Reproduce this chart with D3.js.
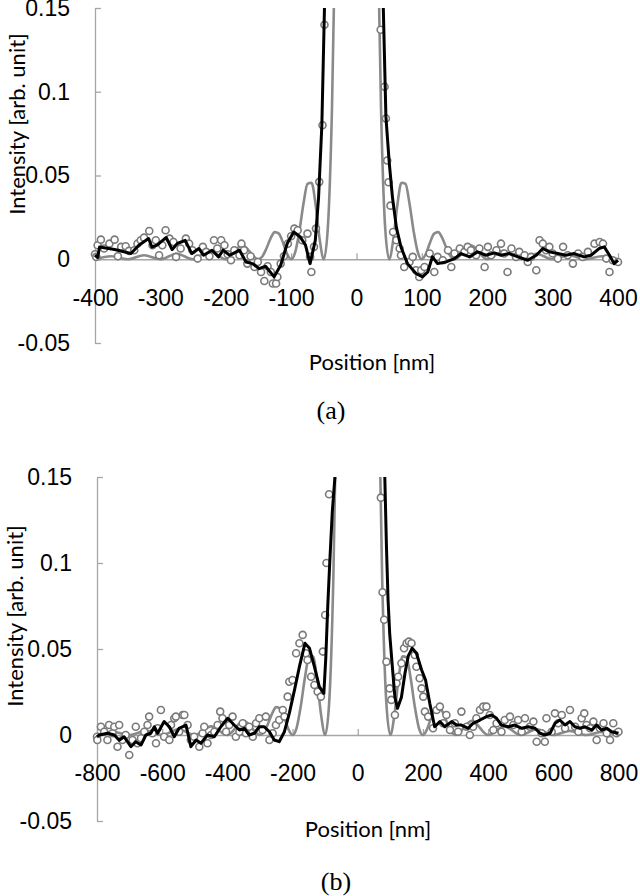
<!DOCTYPE html>
<html>
<head>
<meta charset="utf-8">
<script src="https://cdn.jsdelivr.net/npm/d3@7"></script>
<style>
  body { margin: 0; background: #fff; }
  .axis text { font-family: "Liberation Sans", Arial, sans-serif; font-size: 23px; fill: #000; }
  .axis path, .axis line { stroke: #a6a6a6; stroke-width: 1.3; }
  .ax-title { font-family: Lato, "Open Sans", sans-serif; font-size: 22px; fill: #000; }
  .cap { font-family: "Liberation Serif", "Times New Roman", serif; font-size: 26px; fill: #000; }
</style>
</head>
<body>
<svg width="640" height="896"></svg>
<script>
// y ticks shared by both panels
var yTicks = [-0.05, 0, 0.05, 0.1, 0.15];
var xTicksA = [-400, -300, -200, -100, 0, 100, 200, 300, 400];
var xTicksB = [-800, -600, -400, -200, 0, 200, 400, 600, 800];

// calculated profile (gray), same shape in both panels, positions differ
var theoryPosA = [-400,-375,-350,-325,-300,-275,-250,-225,-200,-175,-150,
  -143.75,-137.5,-131.25,-125,-118.75,-112.5,-106.25,-100,-93.75,-87.5,-81.25,-75,-68.75,-62.5,-56.25,-50,-43.75,-37.5,-31.25,-25,-18.75,-12.5,-6.25,
  0,
  6.25,12.5,18.75,25,31.25,37.5,43.75,50,56.25,62.5,68.75,75,81.25,87.5,93.75,100,106.25,112.5,118.75,125,131.25,137.5,143.75,
  150,175,200,225,250,275,300,325,350,375,400];
var theoryPosB = [-800,-750,-700,-650,-600,-550,-500,-450,-400,-350,-300,
  -287.5,-275,-262.5,-250,-237.5,-225,-212.5,-200,-187.5,-175,-162.5,-150,-137.5,-125,-112.5,-100,-87.5,-75,-62.5,-50,-37.5,-25,-12.5,
  0,
  12.5,25,37.5,50,62.5,75,87.5,100,112.5,125,137.5,150,162.5,175,187.5,200,212.5,225,237.5,250,262.5,275,287.5,
  300,350,400,450,500,550,600,650,700,750,800];
var theoryVal = [0,0.0018,0,0.0024,0,0.0033,0,0.005,0,0.0083,0,
  0.0018,0.0067,0.0126,0.0162,0.0153,0.0100,0.0033,0,0.0042,0.0165,0.0328,0.0450,0.0457,0.0324,0.0117,0,0.0194,0.0901,0.2214,0.4053,0.6150,0.8106,0.9496,
  1,
  0.9496,0.8106,0.6150,0.4053,0.2214,0.0901,0.0194,0,0.0117,0.0324,0.0457,0.0450,0.0328,0.0165,0.0042,0,0.0033,0.0100,0.0153,0.0162,0.0126,0.0067,0.0018,
  0,0.0083,0,0.005,0,0.0033,0,0.0024,0,0.0018,0];

// measured points (open circles) [position nm, intensity]
var dotsA = [[-400,0.003],[-398,0.0014],[-396,0.0084],[-391,0.0117],[-386,0.0064],[-378,0.0093],[-370,0.0117],[-365,0.0018],[-360,0.0074],[-353,0.0078],
  [-348,0.005],[-340,0.0054],[-335,0.0093],[-330,0.0113],[-325,0.0129],[-317,0.0169],[-312,0.0084],[-307,0.0113],[-302,0.0024],[-297,0.0084],
  [-292,0.0173],[-286,0.0123],[-280,0.0103],[-276,0.0014],[-269,0.0064],[-261,0.0123],[-256,0.0093],[-251,0.0054],[-243,0.0004],[-235,0.0074],
  [-230,0.0044],[-225,0.0018],[-218,0.0113],[-213,0.0064],[-207,0.0113],[-202,0.0084],[-197,0.003],[-192,-0.0006],[-187,0.0054],[-179,0.0024],
  [-176,0.0093],[-172,0.0054],[-167,-0.0026],[-162,0.0018],[-156,-0.0046],[-151,-0.0016],[-146,-0.0076],[-141,-0.013],[-136,-0.0042],[-131,-0.0076],
  [-128,-0.0145],[-123,-0.0145],[-121,-0.0106],[-116,-0.0026],[-111,0.0018],[-105,0.0093],[-100,0.0137],[-95,0.0183],[-90,0.0173],[-83,0.0113],
  [-75,0.0153],[-71,0.0014],[-69,-0.0076],[-65,0.0074],[-62,0.0183],[-57,0.0462],[-52,0.08],[-49,0.14],
  [37,0.137],[43,0.103],[45,0.084],[47,0.059],[49,0.046],[52,0.032],[56,0.0163],[61,0.0113],[66,0.0064],[68,0.0024],
  [73,-0.0046],[81,-0.0016],[86,0.0014],[91,-0.0066],[96,-0.0106],[99,-0.0066],[104,-0.0046],[112,0.0034],[119,-0.0076],[124,0.0014],
  [132,-0.0006],[140,0.0054],[145,-0.0046],[150,0.0034],[158,0.0064],[165,0.0044],[170,0.0074],[175,0.0054],[183,0.0024],[188,0.0064],
  [196,-0.0046],[201,0.0074],[206,0.0024],[214,0.0054],[221,0.0093],[226,0.0034],[231,-0.0076],[237,0.0064],[244,0.0014],[249,0.0044],
  [257,0.0024],[262,-0.0016],[267,0.0014],[275,-0.0066],[280,0.0113],[285,0.0093],[290,0.0054],[295,0.0074],[300,0.0034],[308,0.0004],
  [316,0.0074],[323,0.0024],[331,-0.0026],[339,0.0034],[346,0.0014],[354,0.0044],[364,0.0093],[372,0.0103],[377,0.0093],[382,0.0004],
  [387,-0.0076],[392,-0.0006],[400,-0.0016]];

var dotsB = [[-800,-0.001],[-799,-0.0029],[-788,0.0048],[-778,0.0019],[-768,-0.0029],[-763,0.0058],[-752,0.001],[-747,0.0048],[-737,-0.0068],[-732,0.0058],
  [-722,-0.0029],[-712,0],[-701,-0.0116],[-691,-0.0029],[-681,0.0048],[-676,-0.0048],[-665,-0.0019],[-655,0.0019],[-645,0.0058],[-640,0.0107],
  [-630,0.001],[-619,-0.0048],[-614,0.0039],[-604,0.0145],[-594,-0.001],[-578,-0.0029],[-573,0.0058],[-563,0.0097],[-558,0.0107],[-548,0.0019],
  [-537,0.0116],[-532,0.0116],[-522,0.0058],[-512,-0.0029],[-502,-0.001],[-486,-0.0068],[-476,0.001],[-471,0.0048],[-461,-0.0048],[-450,0],
  [-440,0.0019],[-430,0.0058],[-422,0.0136],[-415,0.0097],[-404,0.0019],[-394,0.0058],[-384,0.0107],[-374,-0.001],[-363,0.0019],[-353,0.0068],
  [-343,0.001],[-333,0.0048],[-322,-0.001],[-312,0.0068],[-302,0.0097],[-292,0.0029],[-282,0.0107],[-271,-0.0029],[-261,0.001],[-251,0.0058],
  [-241,0.0087],[-230,0.0145],[-225,0.0107],[-215,0.0223],[-210,0.031],[-200,0.032],[-189,0.0475],[-179,0.0533],[-169,0.0582],[-159,0.0475],
  [-154,0.0436],[-143,0.0339],[-133,0.0291],[-123,0.0252],[-113,0.0223],[-107,0.0485],[-100,0.0698],[-96,0.10],[-88,0.14],
  [71,0.138],[76,0.083],[81,0.067],[88,0.0426],[98,0.0271],[103,0.0204],[114,0.0116],[119,0.0301],[124,0.0339],[134,0.0417],
  [142,0.0504],[150,0.0533],[157,0.0543],[165,0.0533],[175,0.0465],[180,0.0397],[190,0.033],[196,0.0271],[201,0.0223],[206,0.0136],
  [216,0.0107],[231,0.0039],[242,0.0145],[252,0.0165],[262,0.0068],[272,0.0116],[283,0.0029],[298,0.0068],[308,0.0019],[318,0.0136],
  [334,0.0048],[344,0],[354,0.0048],[364,0.0097],[375,0.0145],[385,0.0165],[395,0.0165],[405,0.0116],[416,0.0029],[426,0.0068],
  [441,0.0019],[451,0.0087],[467,0.0107],[477,0.0058],[492,0.0087],[503,0.0019],[513,0.0097],[528,0.0048],[539,0.0078],[549,-0.0039],
  [564,0.001],[574,-0.0039],[579,0.0097],[595,0.0019],[605,0.0126],[615,0.0068],[626,0.0116],[636,0.0039],[651,0.0145],[667,0.0048],
  [677,0.0019],[687,0.0097],[695,0.0126],[702,0.0058],[713,0.0039],[723,0.0078],[733,-0.0029],[743,0.0039],[754,0.0068],[764,0.001],
  [774,-0.0029],[784,0.0068],[794,0.001],[800,0.0019]];

// smoothed measurement (black line)
var smoothA = [[-400,0.0024],[-396,0.001],[-393,0.0073],[-370,0.0058],[-345,0.0034],[-333,0.0084],[-318,0.0124],[-313,0.0073],[-305,0.0084],[-291,0.013],
  [-282,0.0058],[-274,0.0094],[-262,0.0113],[-252,0.0034],[-241,0.0064],[-234,0.0024],[-221,0.0054],[-211,0.0014],[-204,0.0054],[-194,0.0024],
  [-179,0.0054],[-169,-0.0016],[-159,-0.0026],[-149,-0.0056],[-139,-0.0042],[-126,-0.0105],[-116,-0.0036],[-106,0.0094],[-96,0.0163],[-86,0.0133],
  [-78,0.0084],[-71,-0.0026],[-63,0.0113],[-58,0.037],[-53,0.08],[-49,0.15],[-46,0.2],
  [38,0.2],[41,0.15],[45,0.085],[50,0.058],[55,0.037],[61,0.019],[68,0.0073],[78,-0.0026],[91,-0.0085],[101,-0.0105],
  [109,-0.0076],[116,0.0014],[124,-0.0026],[137,-0.0016],[150,0.0004],[160,0.0034],[173,0.0014],[185,0.0044],[198,0.0024],[211,0.0038],
  [221,0.0024],[234,0.0034],[247,0.0014],[262,-0.0006],[275,0.0024],[285,0.0064],[295,0.0044],[308,0.0034],[320,0.0024],[333,0.0034],
  [348,0.0014],[359,0.0024],[371,0.0064],[379,0.0074],[387,0.0024],[394,-0.0026],[400,-0.0006]];

var smoothB = [[-800,-0.001],[-793,0],[-768,0.001],[-747,0],[-732,-0.003],[-717,-0.001],[-696,-0.0068],[-681,-0.0039],[-665,-0.0058],[-650,0],
  [-635,0.001],[-624,0.0048],[-614,0.001],[-594,0.0078],[-578,0.0048],[-563,-0.001],[-548,0.0039],[-527,0.0058],[-512,-0.0068],[-496,-0.0029],
  [-481,-0.0048],[-461,0],[-440,-0.001],[-420,0.0048],[-399,0.0097],[-379,0.0058],[-363,0.0029],[-348,0.0039],[-333,0],[-317,0.001],
  [-302,0.0048],[-287,0.0048],[-271,0.0019],[-256,-0.0029],[-241,-0.0039],[-225,0.0019],[-210,0.0126],[-194,0.0262],[-179,0.0397],[-162,0.0533],
  [-148,0.0504],[-133,0.0397],[-118,0.0281],[-104,0.0242],[-98,0.045],[-92,0.075],[-86,0.10],[-78,0.13],[-70,0.15],[-66,0.2],
  [80,0.2],[83,0.15],[88,0.11],[93,0.0785],[98,0.059],[106,0.04],[114,0.022],[122,0.0155],[134,0.022],[145,0.036],
  [155,0.046],[167,0.0504],[180,0.0475],[196,0.0378],[208,0.032],[221,0.0184],[236,0.0048],[252,0.0078],[267,0.0048],[288,0.0078],
  [303,0.0058],[318,0.0058],[339,0.0039],[354,0.0068],[375,0.0087],[395,0.0107],[411,0.0116],[426,0.0097],[441,0.0058],[462,0.0048],
  [482,0.0058],[503,0.0039],[523,0.0048],[544,0.0039],[559,0.001],[574,0],[590,0.001],[605,0.0068],[620,0.0087],[636,0.0058],
  [651,0.0078],[666,0.0048],[682,0.0039],[697,0.0048],[718,0.0029],[733,0.0058],[748,0.0029],[764,0.0039],[779,0.0019],[800,0.001]];

var svg = d3.select("svg");

function drawPanel(p) {
    var x = d3.scaleLinear().domain(p.xDomain).range(p.xRange);
    var y = d3.scaleLinear().domain([-0.05, 0.15]).range(p.yRange);

    var g = svg.append("g");

    g.append("clipPath").attr("id", p.id)
      .append("rect")
        .attr("x", x.range()[0] - 15)
        .attr("y", y(0.15))
        .attr("width", x.range()[1] - x.range()[0] + 30)
        .attr("height", y(-0.05) - y(0.15));

    // y axis: ticks point right, labels on the left
    g.append("g")
        .attr("class", "axis")
        .attr("transform", "translate(" + x.range()[0] + ",0)")
        .call(d3.axisLeft(y).tickValues(yTicks).tickSizeInner(-6).tickSizeOuter(0).tickPadding(25)
            .tickFormat(function(d) { return String(d); }));

    // x axis along zero, ticks pointing up
    g.append("g")
        .attr("class", "axis")
        .attr("transform", "translate(0," + y(0) + ")")
        .call(d3.axisBottom(x).tickValues(p.xTicks).tickSizeInner(-6).tickSizeOuter(0).tickPadding(30)
            .tickFormat(function(d) { return String(d); }));
    g.selectAll(".axis").attr("font-size", null).attr("font-family", null);

    var plot = g.append("g").attr("clip-path", "url(#" + p.id + ")");

    var thy = p.theoryPos.map(function(d, i) { return [d, theoryVal[i]]; });
    plot.append("path")
        .datum(thy)
        .attr("fill", "none")
        .attr("stroke", "#8a8a8a")
        .attr("stroke-width", 2.6)
        .attr("d", d3.line().curve(d3.curveMonotoneX)
            .x(function(d) { return x(d[0]); })
            .y(function(d) { return y(d[1]); }));

    plot.selectAll("circle")
        .data(p.dots)
        .enter().append("circle")
        .attr("cx", function(d) { return x(d[0]); })
        .attr("cy", function(d) { return y(d[1]); })
        .attr("r", 3.5)
        .attr("fill", "#fff")
        .attr("stroke", "#7a7a7a")
        .attr("stroke-width", 1.6);

    plot.append("path")
        .datum(p.smooth)
        .attr("fill", "none")
        .attr("stroke", "#000")
        .attr("stroke-width", 3)
        .attr("stroke-linejoin", "round")
        .attr("d", d3.line()
            .x(function(d) { return x(d[0]); })
            .y(function(d) { return y(d[1]); }));

    g.append("text")
        .attr("class", "ax-title")
        .attr("transform", "translate(" + p.yTitle[0] + "," + p.yTitle[1] + ") rotate(-90)")
        .attr("text-anchor", "middle")
        .text("Intensity [arb. unit]");

    g.append("text")
        .attr("class", "ax-title")
        .attr("x", p.xTitle[0])
        .attr("y", p.xTitle[1])
        .attr("text-anchor", "middle")
        .text("Position [nm]");

    g.append("text")
        .attr("class", "cap")
        .attr("x", p.cap[0])
        .attr("y", p.cap[1])
        .attr("text-anchor", "middle")
        .text(p.label);
}

drawPanel({
    id: "clipA", label: "(a)",
    xDomain: [-400, 400], xRange: [95, 618], yRange: [343, 8],
    xTicks: xTicksA, theoryPos: theoryPosA, dots: dotsA, smooth: smoothA,
    yTitle: [25, 124], xTitle: [372, 370], cap: [331, 419]
});

drawPanel({
    id: "clipB", label: "(b)",
    xDomain: [-800, 800], xRange: [97, 618.5], yRange: [821, 477],
    xTicks: xTicksB, theoryPos: theoryPosB, dots: dotsB, smooth: smoothB,
    yTitle: [23, 616], xTitle: [368, 837], cap: [336, 890]
});
</script>
</body>
</html>
